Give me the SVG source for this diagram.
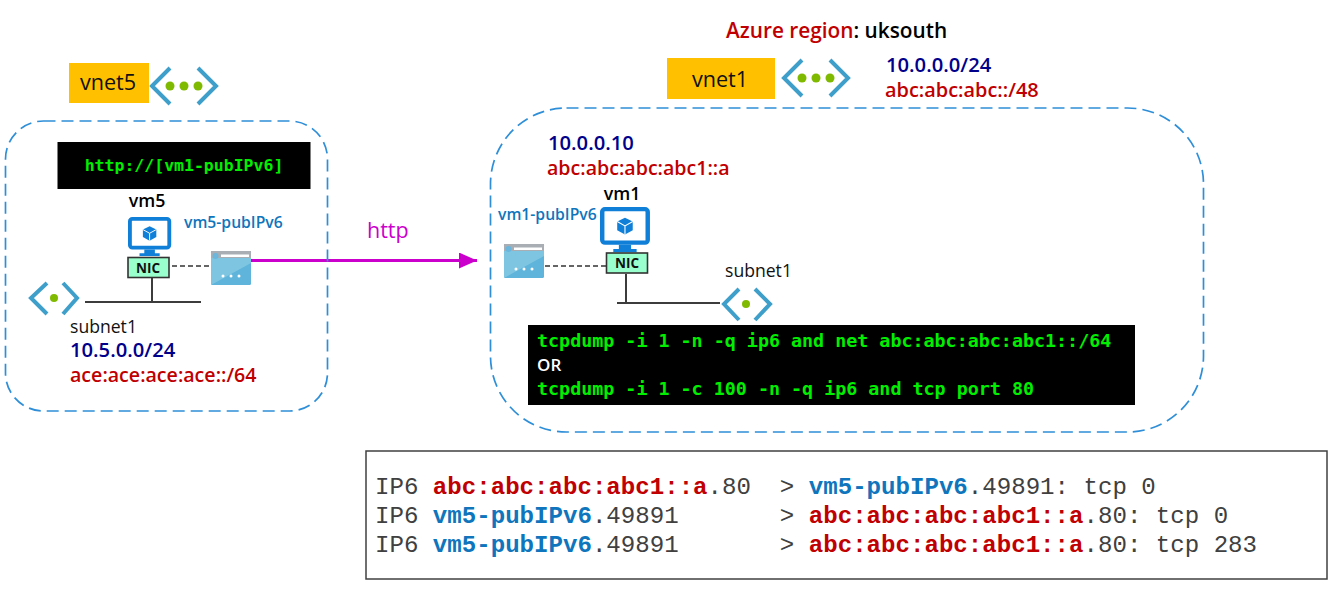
<svg xmlns="http://www.w3.org/2000/svg" width="1341" height="594" viewBox="0 0 1341 594">
<style>
text{font-family:"Open Sans","Noto Sans","Liberation Sans",sans-serif}
.b{font-weight:600}
.navy{fill:#00008b;font-size:20.2px;font-weight:600}
.red{fill:#c00000;font-size:19.6px;font-weight:600}
.red2{font-size:19.9px}
.blk{fill:#111;font-size:17.6px}
.pip{fill:#0f75bc;font-size:15.7px;font-weight:600}
.vm{fill:#000;font-size:17.8px;font-weight:600}
.vnet{fill:#111;font-size:21.6px}
.nictxt{fill:#111;font-size:13.5px;font-weight:700}
.con{font-family:"DejaVu Sans Mono","Liberation Mono",monospace;font-weight:700;font-size:18.35px;fill:#00ee00}
.url{font-size:16.5px}
.tty{font-family:"Liberation Mono",monospace;font-size:24.1px;fill:#404040}
.tr{font-weight:700;fill:#c00000}
.tb{font-weight:700;fill:#0f75bc}
.zone{fill:none;stroke:#2e8fd8;stroke-width:1.7;stroke-dasharray:12 6}
.chev{fill:none;stroke:#3f9fcb;stroke-width:4}
.dot{fill:#7fba00}
.wire{fill:none;stroke:#3c3c3c;stroke-width:2}
.dash{fill:none;stroke:#333;stroke-width:1.7;stroke-dasharray:5 3}
.nic{fill:#99ffcc;stroke:#333;stroke-width:1.6}
.mon{fill:#fff;stroke:#0f7fd8;stroke-width:4}
</style>
<defs>
<marker id="arr" markerUnits="userSpaceOnUse" markerWidth="20" markerHeight="16" refX="18" refY="8" orient="auto"><path d="M0 0L18 8L0 16Z" fill="#cc00cc"/></marker>
<g id="vmicon">
<rect x="2" y="2" width="41" height="31" rx="2.5" class="mon"/>
<path d="M22.500 10l7 3.500v8l-7 4-7-4v-8z" fill="#0f7fd8"/>
<path d="M15.500 13.500l7 4 7-4M22.500 17.500v8" fill="none" stroke="#fff" stroke-width="1"/>
<path d="M17 35h11v4h5v3H12v-3h5z" fill="#0f7fd8"/>
</g>
<g id="ipicon">
<rect x="0" y="0" width="40" height="34" rx="1.500" fill="#5eb4da"/>
<path d="M0 7h40v5L0 34z" fill="#86c9e4" opacity=".8"/>
<rect x="0" y="0" width="40" height="7" fill="#a8aeb3"/>
<circle cx="4.500" cy="5" r="3" fill="#6ab6dc"/>
<rect x="10" y="3.500" width="28" height="2.500" fill="#fff"/>
<circle cx="12" cy="25" r="1.500" fill="#fff"/><circle cx="20" cy="25" r="1.500" fill="#fff"/><circle cx="28" cy="25" r="1.500" fill="#fff"/>
</g>
</defs>

<g id="connectors">
<path class="wire" d="M152 277V302M85 302H201"/>
<path class="dash" d="M172 266H212"/>
<path d="M250 260.500H477" fill="none" stroke="#cc00cc" stroke-width="3" marker-end="url(#arr)"/>
<path class="dash" d="M545 266H607"/>
<path class="wire" d="M626 274V303M617 303H720"/>
</g>

<g id="vnet5-zone"><rect class="zone" x="5.500" y="121" width="322" height="290" rx="38"/></g>
<g id="vnet1-zone"><rect class="zone" x="490.500" y="108" width="713" height="324" rx="76"/></g>

<g id="region"><text x="726" y="38" class="b" font-size="20.800" fill="#c00000">Azure region<tspan fill="#000">: uksouth</tspan></text></g>

<g id="vnet5">
<rect x="69" y="63" width="80" height="40" fill="#ffc000"/>
<text x="108" y="90" text-anchor="middle" class="vnet">vnet5</text>
<path class="chev" d="M170 68L152 86L170 104M198 68L216 86L198 104"/>
<circle class="dot" cx="170" cy="86" r="4.500"/><circle class="dot" cx="184" cy="86" r="4.500"/><circle class="dot" cx="198" cy="86" r="4.500"/>
</g>

<g id="vnet1">
<rect x="667" y="58" width="108" height="41" fill="#ffc000"/>
<text x="720" y="87" text-anchor="middle" class="vnet">vnet1</text>
<path class="chev" d="M802 60L784 78L802 96M830 60L848 78L830 96"/>
<circle class="dot" cx="802" cy="78" r="4.500"/><circle class="dot" cx="816" cy="78" r="4.500"/><circle class="dot" cx="830" cy="78" r="4.500"/>
<text x="886" y="72" class="navy">10.0.0.0/24</text>
<text x="885" y="97" class="red red2">abc:abc:abc::/48</text>
</g>

<g id="url-box">
<rect x="57.500" y="142" width="253" height="47" fill="#000"/>
<text x="184" y="171" text-anchor="middle" class="con url">http://[vm1-pubIPv6]</text>
</g>

<g id="vm5">
<text x="147" y="207" text-anchor="middle" class="vm">vm5</text>
<use href="#vmicon" transform="translate(128 217) scale(.96 .93)"/>
<rect class="nic" x="128" y="257.500" width="41" height="20"/>
<text x="148" y="272.500" text-anchor="middle" class="nictxt">NIC</text>
</g>

<g id="vm5-pubIPv6">
<text x="184" y="228" class="pip">vm5-pubIPv6</text>
<use href="#ipicon" x="211" y="251"/>
</g>

<g id="subnet5">
<path class="chev" d="M47 283L31 298L47 314M63 283L77 298L63 314" stroke-width="3.500"/>
<circle class="dot" cx="54" cy="298" r="4"/>
<text x="70" y="333" class="blk">subnet1</text>
<text x="70" y="357" class="navy">10.5.0.0/24</text>
<text x="70" y="382" class="red">ace:ace:ace:ace::/64</text>
</g>

<g id="http-label"><text x="367" y="238" font-size="21.500" fill="#cc00cc">http</text></g>

<g id="vm1-addr">
<text x="548" y="150" class="navy">10.0.0.10</text>
<text x="547" y="175" class="red">abc:abc:abc:abc1::a</text>
</g>

<g id="vm1">
<text x="622" y="200" text-anchor="middle" class="vm">vm1</text>
<use href="#vmicon" transform="translate(600 207) scale(1.11 1.08)"/>
<rect class="nic" x="606.500" y="253" width="41" height="20"/>
<text x="627" y="268" text-anchor="middle" class="nictxt">NIC</text>
</g>

<g id="vm1-pubIPv6">
<text x="498" y="220" class="pip">vm1-pubIPv6</text>
<use href="#ipicon" x="504" y="244"/>
</g>

<g id="subnet1">
<text x="725" y="277" class="blk">subnet1</text>
<path class="chev" d="M739 289L724 304L739 320M755 289L770 304L755 320" stroke-width="3.500"/>
<circle class="dot" cx="746" cy="304" r="4"/>
</g>

<g id="tcpdump-box">
<rect x="528" y="325" width="607" height="80" fill="#000"/>
<text x="537" y="347" class="con">tcpdump -i 1 -n -q ip6 and net abc:abc:abc:abc1::/64</text>
<text x="537" y="371" class="b" font-size="17" fill="#fff">OR</text>
<text x="537" y="395" class="con">tcpdump -i 1 -c 100 -n -q ip6 and tcp port 80</text>
</g>

<g id="capture">
<rect x="366" y="451" width="961" height="128" fill="#fff" stroke="#404040" stroke-width="1.500"/>
<text x="375" y="494" class="tty" xml:space="preserve">IP6 <tspan class="tr">abc:abc:abc:abc1::a</tspan>.80  &gt; <tspan class="tb">vm5-pubIPv6</tspan>.49891: tcp 0</text>
<text x="375" y="523" class="tty" xml:space="preserve">IP6 <tspan class="tb">vm5-pubIPv6</tspan>.49891       &gt; <tspan class="tr">abc:abc:abc:abc1::a</tspan>.80: tcp 0</text>
<text x="375" y="552" class="tty" xml:space="preserve">IP6 <tspan class="tb">vm5-pubIPv6</tspan>.49891       &gt; <tspan class="tr">abc:abc:abc:abc1::a</tspan>.80: tcp 283</text>
</g>
</svg>
